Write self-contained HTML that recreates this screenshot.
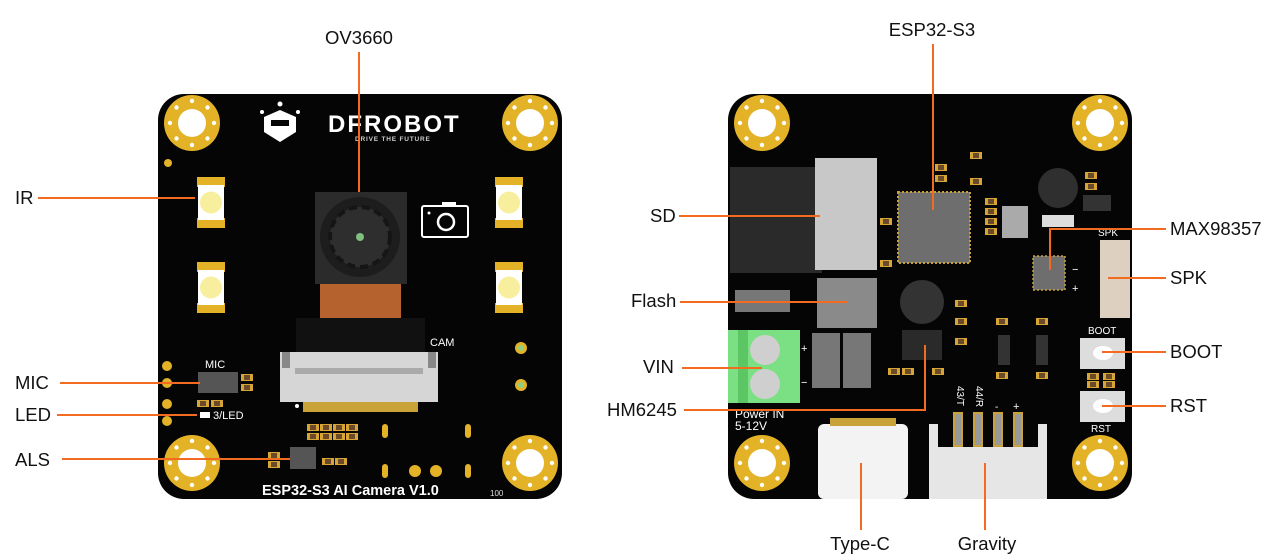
<!DOCTYPE html>
<html><head><meta charset="utf-8"><style>
html,body{margin:0;padding:0;background:#fff;width:1280px;height:559px;overflow:hidden}
svg{display:block}
text{font-family:"Liberation Sans",sans-serif}
</style></head><body>
<svg width="1280" height="559" viewBox="0 0 1280 559" xmlns="http://www.w3.org/2000/svg">
<defs>
<g id="hole"><circle r="28" fill="#e3b227"/><circle r="14" fill="#fff"/>
<g fill="#fff"><circle cx="0" cy="-22" r="2.2"/><circle cx="0" cy="22" r="2.2"/><circle cx="-22" cy="0" r="2.2"/><circle cx="22" cy="0" r="2.2"/><circle cx="15.5" cy="15.5" r="2.2"/><circle cx="-15.5" cy="15.5" r="2.2"/><circle cx="15.5" cy="-15.5" r="2.2"/><circle cx="-15.5" cy="-15.5" r="2.2"/></g></g>
<g id="led"><rect x="0" y="0" width="28" height="10" fill="#e3b227"/><rect x="0" y="41" width="28" height="10" fill="#e3b227"/><rect x="1" y="8" width="26" height="35" fill="#fff"/><circle cx="14" cy="25.5" r="11" fill="#f8ef9e"/></g>
<g id="res"><rect width="12" height="7" fill="#d7a536"/><rect x="3" y="1" width="6" height="5" fill="#6b4a2a"/></g>
</defs>

<!-- LEFT BOARD -->
<rect x="158" y="94" width="404" height="405" rx="26" fill="#050505"/>
<use href="#hole" x="192" y="123"/><use href="#hole" x="530" y="123"/><use href="#hole" x="192" y="463"/><use href="#hole" x="530" y="463"/>
<path d="M264 117 L280 110 L296 117 L296 132 L280 142 L264 132Z" fill="#fff"/>
<rect x="271" y="120" width="18" height="6" fill="#050505"/>
<circle cx="280" cy="104" r="2.5" fill="#fff"/><circle cx="262" cy="112" r="2" fill="#fff"/><circle cx="298" cy="112" r="2" fill="#fff"/>
<text x="328" y="132" font-size="24" font-weight="bold" fill="#fff" letter-spacing="2">DFROBOT</text>
<text x="355" y="141" font-size="6.5" font-weight="bold" fill="#ccc" letter-spacing="0.8">DRIVE THE FUTURE</text>
<circle cx="168" cy="163" r="4" fill="#e3b227"/>
<use href="#led" x="197" y="177"/><use href="#led" x="197" y="262"/><use href="#led" x="495" y="177"/><use href="#led" x="495" y="262"/>
<rect x="315" y="192" width="92" height="92" fill="#2b2b2b"/>
<circle cx="360" cy="237" r="40" fill="#1d1d1d"/>
<circle cx="360" cy="237" r="30" fill="#2e2e2e" stroke="#151515" stroke-width="4" stroke-dasharray="8 5"/>
<circle cx="360" cy="237" r="4" fill="#7fbf7f"/>
<rect x="320" y="284" width="81" height="34" fill="#b5622f"/>
<rect x="296" y="318" width="129" height="34" fill="#111"/>
<rect x="280" y="352" width="158" height="50" fill="#d6d6d6"/>
<rect x="282" y="352" width="8" height="16" fill="#888"/><rect x="428" y="352" width="8" height="16" fill="#888"/>
<rect x="295" y="368" width="128" height="6" fill="#aaa"/>
<rect x="303" y="402" width="115" height="10" fill="#c9a23a"/>
<circle cx="297" cy="406" r="2" fill="#fff"/>
<text x="430" y="346" font-size="11" fill="#fff">CAM</text>
<rect x="422" y="206" width="46" height="31" rx="2" fill="none" stroke="#fff" stroke-width="2"/>
<rect x="442" y="202" width="14" height="5" fill="#fff"/>
<circle cx="446" cy="222" r="8" fill="none" stroke="#fff" stroke-width="2.5"/>
<circle cx="429" cy="213" r="1.5" fill="#fff"/>
<circle cx="521" cy="348" r="6" fill="#e3b227"/><circle cx="521" cy="348" r="3" fill="#8fd07f"/>
<circle cx="521" cy="385" r="6" fill="#e3b227"/><circle cx="521" cy="385" r="3" fill="#8fd07f"/>
<circle cx="167" cy="366" r="5" fill="#e3b227"/><circle cx="167" cy="383" r="5" fill="#e3b227"/><circle cx="167" cy="404" r="5" fill="#e3b227"/><circle cx="167" cy="421" r="5" fill="#e3b227"/>
<text x="205" y="368" font-size="11" fill="#fff">MIC</text>
<rect x="198" y="372" width="40" height="21" fill="#555"/>
<use href="#res" x="241" y="374"/><use href="#res" x="241" y="384"/>
<use href="#res" x="197" y="400"/><use href="#res" x="211" y="400"/>
<rect x="200" y="412" width="10" height="6" fill="#fff"/>
<text x="213" y="419" font-size="11" fill="#fff">3/LED</text>
<use href="#res" x="307" y="424"/><use href="#res" x="320" y="424"/><use href="#res" x="333" y="424"/><use href="#res" x="346" y="424"/>
<use href="#res" x="307" y="433"/><use href="#res" x="320" y="433"/><use href="#res" x="333" y="433"/><use href="#res" x="346" y="433"/>
<rect x="290" y="447" width="26" height="22" fill="#555"/>
<use href="#res" x="268" y="452"/><use href="#res" x="268" y="461"/>
<use href="#res" x="322" y="458"/><use href="#res" x="335" y="458"/>
<rect x="382" y="424" width="6" height="14" rx="3" fill="#e3b227"/><rect x="465" y="424" width="6" height="14" rx="3" fill="#e3b227"/>
<rect x="382" y="464" width="6" height="14" rx="3" fill="#e3b227"/><rect x="465" y="464" width="6" height="14" rx="3" fill="#e3b227"/>
<circle cx="415" cy="471" r="6" fill="#e3b227"/><circle cx="436" cy="471" r="6" fill="#e3b227"/>
<text x="262" y="495" font-size="14.5" font-weight="bold" fill="#fff">ESP32-S3 AI Camera V1.0</text>
<text x="490" y="496" font-size="8" fill="#ddd">100</text>

<!-- RIGHT BOARD -->
<rect x="728" y="94" width="404" height="405" rx="26" fill="#050505"/>
<use href="#hole" x="762" y="123"/><use href="#hole" x="1100" y="123"/><use href="#hole" x="762" y="463"/><use href="#hole" x="1100" y="463"/>
<rect x="730" y="167" width="92" height="106" fill="#2a2a2a"/>
<rect x="815" y="158" width="62" height="112" fill="#c8c8c8"/>
<rect x="898" y="192" width="72" height="71" fill="#6e6e6e" stroke="#c9a23a" stroke-width="2" stroke-dasharray="2 2"/>
<use href="#res" x="935" y="164"/><use href="#res" x="935" y="175"/><use href="#res" x="970" y="152"/><use href="#res" x="970" y="178"/>
<use href="#res" x="880" y="218"/><use href="#res" x="880" y="260"/><use href="#res" x="985" y="198"/><use href="#res" x="985" y="208"/><use href="#res" x="985" y="218"/><use href="#res" x="985" y="228"/>
<rect x="1002" y="206" width="26" height="32" fill="#aaa"/>
<circle cx="1058" cy="188" r="20" fill="#2f2f2f"/>
<rect x="1042" y="215" width="32" height="12" fill="#ddd"/>
<rect x="1083" y="195" width="28" height="16" fill="#333"/>
<use href="#res" x="1085" y="172"/><use href="#res" x="1085" y="183"/>
<rect x="1033" y="256" width="32" height="34" fill="#6e6e6e" stroke="#c9a23a" stroke-width="1.5" stroke-dasharray="2 2"/>
<rect x="1100" y="240" width="30" height="78" fill="#ddd0c0"/>
<text x="1098" y="236" font-size="10" fill="#fff">SPK</text>
<text x="1072" y="273" font-size="11" fill="#fff">−</text><text x="1072" y="292" font-size="11" fill="#fff">+</text>
<rect x="735" y="290" width="55" height="22" fill="#777"/>
<rect x="817" y="278" width="60" height="50" fill="#8a8a8a"/>
<circle cx="922" cy="302" r="22" fill="#333"/>
<rect x="728" y="330" width="72" height="73" fill="#7be083"/>
<rect x="738" y="330" width="10" height="73" fill="#5cc665"/>
<circle cx="765" cy="350" r="15" fill="#cfcfcf"/><circle cx="765" cy="384" r="15" fill="#cfcfcf"/>
<text x="801" y="352" font-size="11" fill="#fff">+</text><text x="801" y="386" font-size="11" fill="#fff">−</text>
<rect x="812" y="333" width="28" height="55" fill="#777"/><rect x="843" y="333" width="28" height="55" fill="#777"/>
<rect x="902" y="330" width="40" height="30" fill="#2a2a2a"/>
<use href="#res" x="888" y="368"/><use href="#res" x="902" y="368"/><use href="#res" x="932" y="368"/>
<use href="#res" x="955" y="300"/><use href="#res" x="955" y="318"/><use href="#res" x="955" y="338"/>
<rect x="998" y="335" width="12" height="30" fill="#333"/><rect x="1036" y="335" width="12" height="30" fill="#333"/>
<use href="#res" x="996" y="318"/><use href="#res" x="1036" y="318"/><use href="#res" x="996" y="372"/><use href="#res" x="1036" y="372"/>
<rect x="1080" y="338" width="45" height="31" fill="#ddd"/><ellipse cx="1103" cy="353" rx="10" ry="7" fill="#fff"/>
<rect x="1080" y="391" width="45" height="31" fill="#ddd"/><ellipse cx="1103" cy="406" rx="10" ry="7" fill="#fff"/>
<text x="1088" y="334" font-size="10" fill="#fff">BOOT</text>
<text x="1091" y="432" font-size="10" fill="#fff">RST</text>
<use href="#res" x="1087" y="373"/><use href="#res" x="1103" y="373"/><use href="#res" x="1087" y="381"/><use href="#res" x="1103" y="381"/>
<text x="735" y="418" font-size="12" fill="#fff">Power IN</text>
<text x="735" y="430" font-size="12" fill="#fff">5-12V</text>
<rect x="818" y="424" width="90" height="75" rx="6" fill="#f3f3f3"/>
<rect x="830" y="418" width="66" height="8" fill="#c9a23a"/>
<rect x="929" y="424" width="118" height="75" fill="#e6e6e6"/>
<rect x="938" y="412" width="100" height="35" fill="#050505"/>
<rect x="953" y="412" width="10" height="35" fill="#c9a23a"/><rect x="973" y="412" width="10" height="35" fill="#c9a23a"/><rect x="993" y="412" width="10" height="35" fill="#c9a23a"/><rect x="1013" y="412" width="10" height="35" fill="#c9a23a"/>
<rect x="955" y="414" width="6" height="31" fill="#999"/><rect x="975" y="414" width="6" height="31" fill="#999"/><rect x="995" y="414" width="6" height="31" fill="#999"/><rect x="1015" y="414" width="6" height="31" fill="#999"/>
<text x="957" y="386" font-size="10" fill="#fff" transform="rotate(90 957 386)">43/T</text>
<text x="976" y="386" font-size="10" fill="#fff" transform="rotate(90 976 386)">44/R</text>
<text x="995" y="410" font-size="10" fill="#fff">-</text><text x="1013" y="410" font-size="11" fill="#fff">+</text>

<g stroke="#f26b21" stroke-width="2" fill="none">
<line x1="359" y1="52" x2="359" y2="192"/>
<line x1="38" y1="198" x2="195" y2="198"/>
<line x1="60" y1="383" x2="200" y2="383"/>
<line x1="57" y1="415" x2="197" y2="415"/>
<line x1="62" y1="459" x2="290" y2="459"/>
<line x1="933" y1="44" x2="933" y2="210"/>
<line x1="679" y1="216" x2="820" y2="216"/>
<line x1="680" y1="302" x2="848" y2="302"/>
<line x1="682" y1="368" x2="762" y2="368"/>
<polyline points="684,410 925,410 925,345"/>
<polyline points="1166,229 1050,229 1050,270"/>
<line x1="1108" y1="278" x2="1166" y2="278"/>
<line x1="1102" y1="352" x2="1166" y2="352"/>
<line x1="1102" y1="406" x2="1166" y2="406"/>
<line x1="861" y1="463" x2="861" y2="530"/>
<line x1="985" y1="463" x2="985" y2="530"/>
</g>

<g font-size="18.5" fill="#111">
<text x="359" y="44" text-anchor="middle">OV3660</text>
<text x="15" y="204">IR</text>
<text x="15" y="389">MIC</text>
<text x="15" y="421">LED</text>
<text x="15" y="466">ALS</text>
<text x="932" y="36" text-anchor="middle">ESP32-S3</text>
<text x="650" y="222">SD</text>
<text x="631" y="307">Flash</text>
<text x="643" y="373">VIN</text>
<text x="607" y="416">HM6245</text>
<text x="1170" y="235">MAX98357</text>
<text x="1170" y="284">SPK</text>
<text x="1170" y="358">BOOT</text>
<text x="1170" y="412">RST</text>
<text x="860" y="550" text-anchor="middle">Type-C</text>
<text x="987" y="550" text-anchor="middle">Gravity</text>
</g>
</svg>
</body></html>
